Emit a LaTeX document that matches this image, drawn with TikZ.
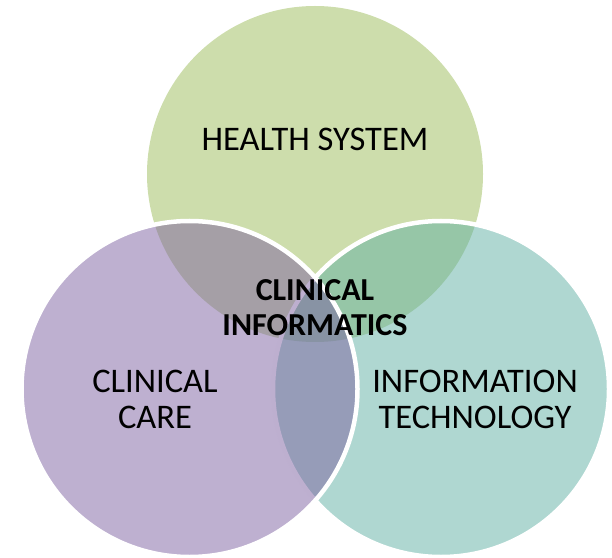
\documentclass[tikz,border=0pt]{standalone}
\usepackage{fontspec}
\setmainfont{Carlito}
\usepackage{tikz}
\usetikzlibrary{positioning}
\definecolor{hsgreen}{RGB}{155,187,89}
\definecolor{ccpurple}{RGB}{125,97,161}
\definecolor{itteal}{RGB}{95,175,163}
\tikzset{
	venn/.style={circle, minimum size=336pt, inner sep=0pt, fill opacity=0.5},
	vennline/.style={draw=white, line width=4.5pt},
	vennlabel/.style={align=center, text=black, font=\fontsize{34.5}{36}\selectfont}
}

\begin{document}
\begin{tikzpicture}[x=1pt,y=1pt]
			\useasboundingbox (0,0) rectangle (612,557);
			\node[venn, fill=hsgreen] (hscircle) at (315,383) {};
			\node[venn, vennline, fill=itteal] (itcircle) at (441,168) {};
			\node[venn, vennline, fill=ccpurple] (cccircle) at (189.5,168) {};
			\node[vennlabel] (health) at (315,418) {HEALTH SYSTEM};
			\node[vennlabel] (care) at (155,158) {CLINICAL\\CARE};
			\node[vennlabel] (tech) at (475,158) {INFORMATION\\TECHNOLOGY};
			\node[vennlabel, font=\fontsize{32}{35}\selectfont\bfseries] (informatics) at (315,249) {CLINICAL\\INFORMATICS};
		\end{tikzpicture}
\end{document}
